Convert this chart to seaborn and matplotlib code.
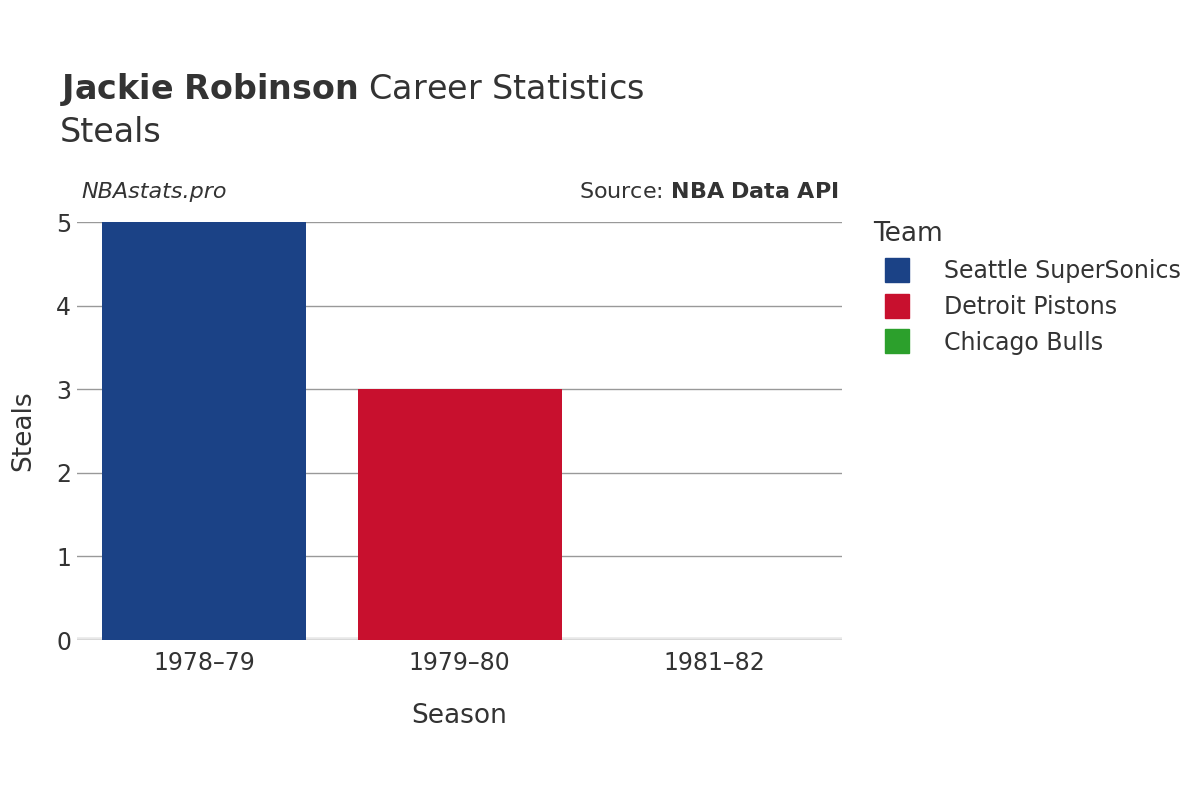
import matplotlib
matplotlib.use("Agg")
import matplotlib.pyplot as plt
import seaborn as sns
import pandas as pd
from matplotlib.lines import Line2D

seasons = ["1978–79", "1979–80", "1981–82"]
teams = ["Seattle SuperSonics", "Detroit Pistons", "Chicago Bulls"]
steals = [5, 3, 0]
colors = ["#1b4286", "#c8102e", "#2ca02c"]
yticks = [0, 1, 2, 3, 4, 5]

df = pd.DataFrame({"Season": seasons, "Team": teams, "Steals": steals})
plt.rcParams["font.family"] = "DejaVu Sans"
fig = plt.figure(figsize=(12, 8), dpi=100)
ax = fig.add_axes([0.064, 0.2, 0.638, 0.5225])
sns.barplot(data=df, x="Season", y="Steals", hue="Team", hue_order=teams,
            palette=colors, dodge=False, width=0.8, ax=ax, legend=False,
            saturation=1)
ax.set_ylim(0, 5)
ax.set_yticks(yticks)
ax.set_xlim(-0.5, 2.5)
for s in ax.spines.values():
    s.set_visible(False)
ax.grid(axis="y", color="#999999", linewidth=1)
ax.set_axisbelow(True)
ax.axhline(0, color="#e8e8e8", linewidth=4, zorder=0.5)
ax.tick_params(axis="both", length=0, labelsize=17, colors="#333333", pad=8)
ax.tick_params(axis="y", pad=4)
ax.set_xlabel("Season", fontsize=19, color="#333333", labelpad=20)
ax.set_ylabel("Steals", fontsize=19, color="#333333", labelpad=14)

fig.text(0.05, 0.888, "$\\bf{Jackie\\ Robinson}$ Career Statistics", fontsize=24, color="#333333", va="center")
fig.text(0.05, 0.834, "Steals", fontsize=24, color="#333333", va="center")
fig.text(0.068, 0.76, "NBAstats.pro", fontsize=16, style="italic", color="#333333", va="center")
fig.text(0.699, 0.76, "Source: $\\bf{NBA\\ Data\\ API}$", fontsize=16, color="#333333", va="center", ha="right")

handles = [Line2D([0], [0], marker="s", linestyle="", markersize=17,
                  markerfacecolor=c, markeredgecolor=c) for c in colors]
leg = fig.legend(handles, teams, title="Team", loc="upper left",
                 bbox_to_anchor=(0.71, 0.75), frameon=False, fontsize=17,
                 title_fontsize=19, labelspacing=0.5, handletextpad=1.0,
                 labelcolor="#333333")
leg.get_title().set_color("#333333")
leg._legend_box.align = "left"
fig.savefig("out.png", dpi=100)
